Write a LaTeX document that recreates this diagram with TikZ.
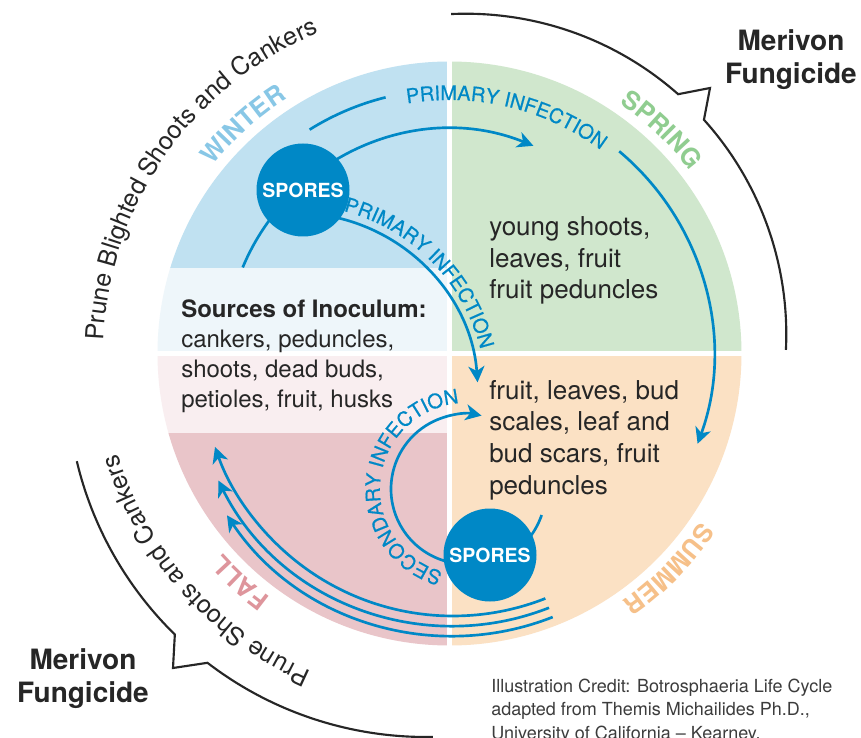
\documentclass[tikz,border=0pt]{standalone}
\usepackage{fontspec}
\setmainfont{TeX Gyre Heros}
\setsansfont{TeX Gyre Heros}
\newfontfamily\infectfamily[FakeBold=0.6]{TeX Gyre Heros}
\usetikzlibrary{arrows.meta, decorations.text, positioning, calc}

\definecolor{winterfill}{HTML}{C0E1F1}
\definecolor{winterpale}{HTML}{EEF6FA}
\definecolor{springfill}{HTML}{D0E7CD}
\definecolor{summerfill}{HTML}{FBE1C4}
\definecolor{fallpale}{HTML}{F9EEF0}
\definecolor{fallfill}{HTML}{E9C5C9}
\definecolor{flowblue}{HTML}{0088C6}
\definecolor{wintertxt}{HTML}{88C7E6}
\definecolor{springtxt}{HTML}{90CD90}
\definecolor{summertxt}{HTML}{F6C089}
\definecolor{falltxt}{HTML}{DE959C}
\definecolor{inkdark}{HTML}{262626}

\newcommand{\seasonfont}{\bfseries\fontsize{19.1}{21}\selectfont}
\newcommand{\infectfont}{\infectfamily\fontsize{15}{17}\selectfont}
\newcommand{\prunefont}{\fontsize{18.75}{21}\selectfont}

\begin{document}
\begin{tikzpicture}[x=0.75pt, y=0.75pt,
      flow/.style    = {draw=flowblue, line width=2pt},
      arr/.style     = {flow, -{Stealth[length=12pt, width=12pt, inset=3.5pt]}},
      bracket/.style = {draw=inkdark, line width=1.6pt},
      spores/.style  = {circle, fill=flowblue, minimum size=69.75pt, inner sep=0pt,
                        text=white, font=\bfseries\fontsize{14.6}{16}\selectfont},
      srcbox/.style  = {align=left, inner sep=0pt, text=inkdark,
                        font=\fontsize{18}{22.3}\selectfont},
      hostbox/.style = {align=left, inner sep=0pt, text=inkdark,
                        font=\fontsize{19.5}{23.7}\selectfont},
      fungbox/.style = {align=center, inner sep=0pt, text=inkdark,
                        font=\bfseries\fontsize{21}{24.75}\selectfont},
      credit/.style  = {align=left, inner sep=0pt, text=inkdark!90,
                        font=\fontsize{13.5}{17.6}\selectfont},
      arclabel/.style= {decorate, decoration={text along path, text align=center, text={#1}}}
    ]

    \useasboundingbox (0,0) rectangle (861,-738);
    \fill[white] (0,0) rectangle (861,-738);

    \coordinate (ctr)   at (449.5,-353.5);
    \coordinate (upc)   at (465.7,-334.3);
    \coordinate (loc)   at (426,-378);
    \coordinate (fallc) at (453,-364);
    \coordinate (diagc) at (296,-395);
    \coordinate (secc)  at (466,-489);

    % ---- SEASON QUADRANTS ----
    \begin{scope}
      \clip (ctr) circle[radius=292];
      \fill[winterfill] (150,-50)    rectangle (449.5,-268);
      \fill[winterpale] (150,-268)   rectangle (449.5,-353.5);
      \fill[springfill] (449.5,-50)  rectangle (750,-353.5);
      \fill[fallpale]   (150,-353.5) rectangle (449.5,-433);
      \fill[fallfill]   (150,-433)   rectangle (449.5,-660);
      \fill[summerfill] (449.5,-353.5) rectangle (750,-660);
    \end{scope}
    \draw[white, line width=3.75pt] (449.5,-55) -- (449.5,-652);
    \draw[white, line width=3.75pt] (150,-353.5) -- (750,-353.5);

    % ---- PRIMARY INFECTION (outer and inner arcs) ----
    \draw[flow] ([shift={(122:264)}]ctr) arc[start angle=122, end angle=104, radius=264];
    \draw[arr]  ([shift={(50:264)}]ctr)  arc[start angle=50, end angle=-20, radius=264];
    \draw[arr]  ([shift={(157.4:224)}]ctr) arc[start angle=157.4, end angle=68, radius=224];
    \draw[arr]  ([shift={(80:182)}]diagc) arc[start angle=80, end angle=4, radius=182];

    % ---- SECONDARY INFECTION loop ----
    \draw[arr]  ([shift={(265:75)}]secc) arc[start angle=265, end angle=78, radius=75];
    \draw[flow] ([shift={(-40:80)}]secc) arc[start angle=-40, end angle=-19, radius=80];

    % ---- FALL return arrows ----
    \foreach \r/\a in {252/-160.8, 262/-153.6, 272/-146.2}
      \draw[arr] ([shift={(-68.5:\r)}]fallc) arc[start angle=-68.5, end angle=\a, radius=\r];

    % ---- Spores ----
    \node[spores] (sporesW) at (303,-190) {SPORES};
    \node[spores] (sporesS) at (490,-555) {SPORES};

    % ---- Quadrant texts (anchored at the last baseline) ----
    \node[srcbox, anchor=base west] (sources) at (181,-407)
      {\textbf{Sources of Inoculum:}\\cankers, peduncles,\\shoots, dead buds,\\petioles, fruit, husks};
    \node[hostbox, anchor=base west] (springhost) at (489,-299)
      {young shoots,\\leaves, fruit\\fruit peduncles};
    \node[hostbox, anchor=base west] (summerhost) at (489,-494)
      {fruit, leaves, bud\\scales, leaf and\\bud scars, fruit\\peduncles};

    % ---- Curved labels ----
    \path[arclabel={|\seasonfont\color{wintertxt}|WINTER}]
      ([shift={(162:302)}]ctr) arc[start angle=162, end angle=102, radius=302];
    \path[arclabel={|\seasonfont\color{springtxt}|SPRING}]
      ([shift={(76.5:302)}]ctr) arc[start angle=76.5, end angle=16.5, radius=302];
    \path[arclabel={|\seasonfont\color{summertxt}|SUMMER}]
      ([shift={(-14.5:302)}]ctr) arc[start angle=-14.5, end angle=-74.5, radius=302];
    \path[arclabel={|\seasonfont\color{falltxt}|FALL}]
      ([shift={(-102.4:302)}]ctr) arc[start angle=-102.4, end angle=-162.4, radius=302];

    \path[arclabel={|\infectfont\color{flowblue}|PRIMARY INFECTION}]
      ([shift={(110:253.5)}]ctr) arc[start angle=110, end angle=43, radius=253.5];
    \path[arclabel={|\infectfont\color{flowblue}|PRIMARY INFECTION}]
      ([shift={(80:190)}]diagc) arc[start angle=80, end angle=9.4, radius=190];
    \path[arclabel={|\infectfont\color{flowblue}|SECONDARY INFECTION}]
      ([shift={(260:86)}]secc) arc[start angle=260, end angle=89, radius=86];

    \path[arclabel={|\prunefont\color{inkdark}|Prune Blighted Shoots and Cankers}]
      ([shift={(200:346)}]ctr) arc[start angle=200, end angle=90, radius=346];
    \path[arclabel={|\prunefont\color{inkdark}|Prune Shoots and Cankers}]
      ([shift={(-93.3:346)}]ctr) arc[start angle=-93.3, end angle=-183.3, radius=346];

    % ---- Merivon brackets ----
    \draw[bracket] ([shift={(92.6:320.6)}]upc) arc[start angle=92.6, end angle=48.5, radius=320.6]
      -- (710,-88) -- ([shift={(42:320.6)}]upc) arc[start angle=42, end angle=-2.8, radius=320.6];
    \draw[bracket] ([shift={(193.4:359)}]loc) arc[start angle=193.4, end angle=225.6, radius=359]
      -- (173,-668) -- ([shift={(232.5:359)}]loc) arc[start angle=232.5, end angle=271.1, radius=359];

    \node[fungbox, anchor=base] (fungNE) at (791,-84) {Merivon\\Fungicide};
    \node[fungbox, anchor=base] (fungSW) at (83,-702) {Merivon\\Fungicide};

    % ---- Credit ----
    \node[credit, anchor=base west] (credit) at (491,-739)
      {Illustration Credit: Botrosphaeria Life Cycle\\adapted from Themis Michailides Ph.D.,\\University of California – Kearney.};

  \end{tikzpicture}
\end{document}
